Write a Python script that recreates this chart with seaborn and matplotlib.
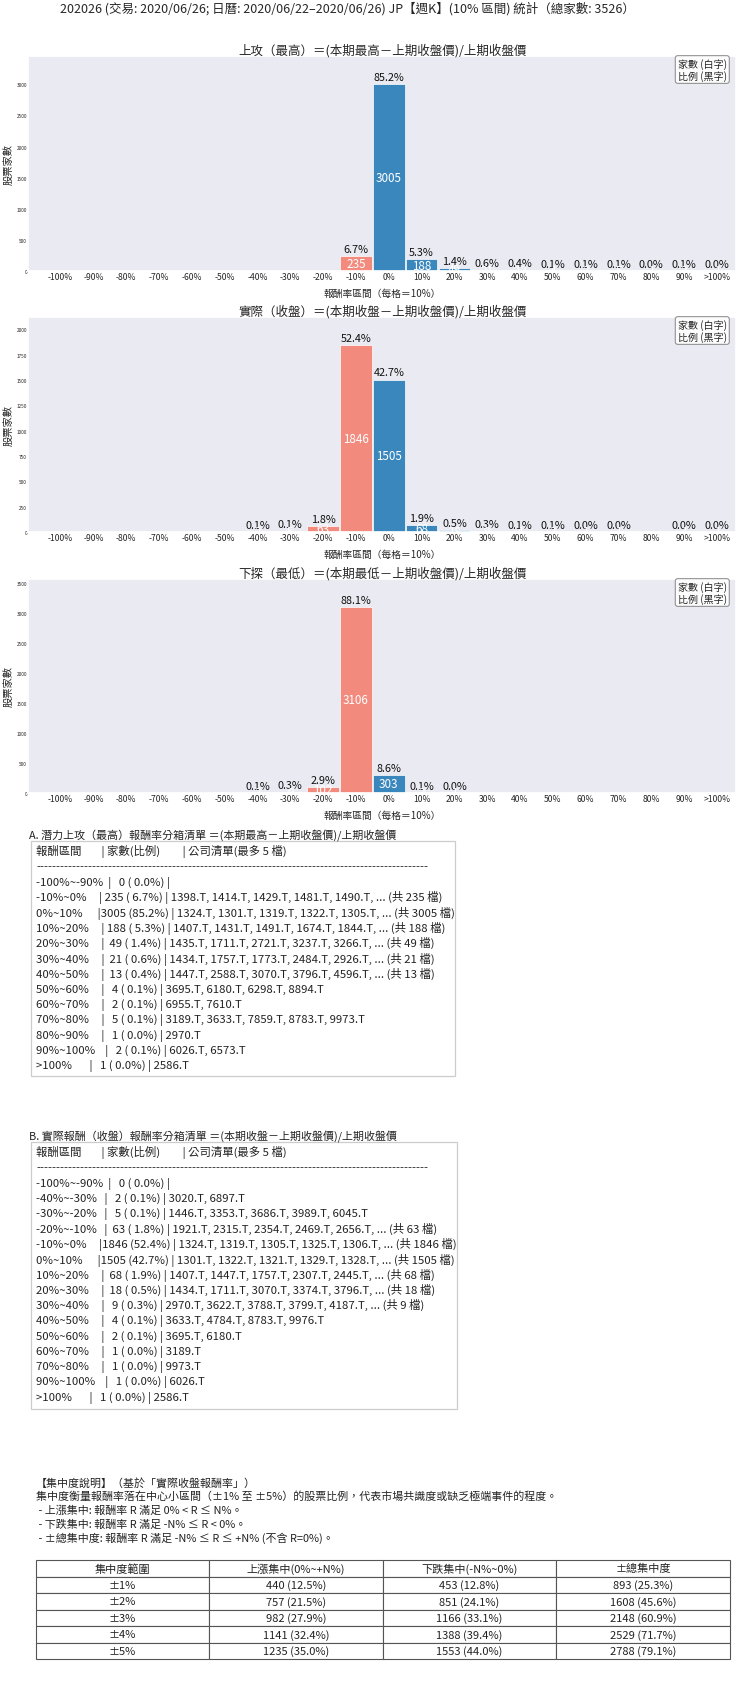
import numpy as np
import pandas as pd
import seaborn as sns
import matplotlib.pyplot as plt
from matplotlib.patches import Rectangle

# ---------------- data ----------------
TOTAL = 3526
main_title = "202026 (交易: 2020/06/26; 日曆: 2020/06/22–2020/06/26) JP【週K】(10% 區間) 統計（總家數: 3526）"

bin_labels = ['-100%', '-90%', '-80%', '-70%', '-60%', '-50%', '-40%', '-30%', '-20%', '-10%',
              '0%', '10%', '20%', '30%', '40%', '50%', '60%', '70%', '80%', '90%', '>100%']
range_labels = ['-100%~-90%', '-90%~-80%', '-80%~-70%', '-70%~-60%', '-60%~-50%', '-50%~-40%',
                '-40%~-30%', '-30%~-20%', '-20%~-10%', '-10%~0%', '0%~10%', '10%~20%', '20%~30%',
                '30%~40%', '40%~50%', '50%~60%', '60%~70%', '70%~80%', '80%~90%', '90%~100%', '>100%']

high_counts = [0, 0, 0, 0, 0, 0, 0, 0, 0, 235, 3005, 188, 49, 21, 13, 4, 2, 5, 1, 2, 1]
close_counts = [0, 0, 0, 0, 0, 0, 2, 5, 63, 1846, 1505, 68, 18, 9, 4, 2, 1, 1, 0, 1, 1]
low_counts = [0, 0, 0, 0, 0, 0, 3, 9, 102, 3106, 303, 2, 1, 0, 0, 0, 0, 0, 0, 0, 0]

chart_titles = ["上攻（最高）＝(本期最高－上期收盤價)/上期收盤價",
                "實際（收盤）＝(本期收盤－上期收盤價)/上期收盤價",
                "下探（最低）＝(本期最低－上期收盤價)/上期收盤價"]

# company lists for the rows that appear in the tables (first row + non-empty bins)
high_companies = [
    [],
    ['1398.T', '1414.T', '1429.T', '1481.T', '1490.T'],
    ['1324.T', '1301.T', '1319.T', '1322.T', '1305.T'],
    ['1407.T', '1431.T', '1491.T', '1674.T', '1844.T'],
    ['1435.T', '1711.T', '2721.T', '3237.T', '3266.T'],
    ['1434.T', '1757.T', '1773.T', '2484.T', '2926.T'],
    ['1447.T', '2588.T', '3070.T', '3796.T', '4596.T'],
    ['3695.T', '6180.T', '6298.T', '8894.T'],
    ['6955.T', '7610.T'],
    ['3189.T', '3633.T', '7859.T', '8783.T', '9973.T'],
    ['2970.T'],
    ['6026.T', '6573.T'],
    ['2586.T'],
]
close_companies = [
    [],
    ['3020.T', '6897.T'],
    ['1446.T', '3353.T', '3686.T', '3989.T', '6045.T'],
    ['1921.T', '2315.T', '2354.T', '2469.T', '2656.T'],
    ['1324.T', '1319.T', '1305.T', '1325.T', '1306.T'],
    ['1301.T', '1322.T', '1321.T', '1329.T', '1328.T'],
    ['1407.T', '1447.T', '1757.T', '2307.T', '2445.T'],
    ['1434.T', '1711.T', '3070.T', '3374.T', '3796.T'],
    ['2970.T', '3622.T', '3788.T', '3799.T', '4187.T'],
    ['3633.T', '4784.T', '8783.T', '9976.T'],
    ['3695.T', '6180.T'],
    ['3189.T'],
    ['9973.T'],
    ['6026.T'],
    ['2586.T'],
]

conc_ranges = ['±1%', '±2%', '±3%', '±4%', '±5%']
conc_up = [440, 757, 982, 1141, 1235]
conc_down = [453, 851, 1166, 1388, 1553]
conc_total = [893, 1608, 2148, 2529, 2788]
conc_header = ['集中度範圍', '上漲集中(0%~+N%)', '下跌集中(-N%~0%)', '±總集中度']

conc_notes = ["【集中度說明】（基於「實際收盤報酬率」）",
              "集中度衡量報酬率落在中心小區間（±1% 至 ±5%）的股票比例，代表市場共識度或缺乏極端事件的程度。",
              " - 上漲集中: 報酬率 R 滿足 0% < R ≤ N%。",
              " - 下跌集中: 報酬率 R 滿足 -N% ≤ R < 0%。",
              " - ±總集中度: 報酬率 R 滿足 -N% ≤ R ≤ +N% (不含 R=0%)。"]

# ---------------- style ----------------
sns.set_theme(style="darkgrid")
plt.rcParams['font.family'] = ['Noto Sans CJK TC', 'DejaVu Sans']

NEG = '#F28B7E'
POS = '#3A87BE'
POS_LIGHT = '#A3CBE3'
bar_colors = []
for i in range(len(bin_labels)):
    if i < 10:
        bar_colors.append(NEG)
    elif i < 14:
        bar_colors.append(POS)
    else:
        bar_colors.append(POS_LIGHT)

W, H = 740, 1690
fig = plt.figure(figsize=(W / 100, H / 100), dpi=100)


def px_rect(left, top, right, bottom):
    return [left / W, 1 - bottom / H, (right - left) / W, (bottom - top) / H]


def draw_hist(ax, counts, title):
    df = pd.DataFrame({'bin': bin_labels, 'count': counts})
    sns.barplot(data=df, x='bin', y='count', hue='bin', palette=bar_colors, legend=False,
                width=0.96, saturation=1, edgecolor='white', linewidth=0.5, ax=ax)
    ax.set_ylim(0, max(counts) * 1.15)
    ax.set_xlim(-0.98, 20.58)
    ax.yaxis.grid(False)
    for i, c in enumerate(counts):
        if c == 0:
            continue
        ax.annotate(f"{c / TOTAL * 100:.1f}%", (i, c), xytext=(0, 1.5), textcoords='offset points',
                    ha='center', va='bottom', fontsize=7.8, color='#111111')
        ax.text(i, c / 2, str(c), color='white', ha='center', va='center', fontsize=8.4, clip_on=True)
    ax.set_title(title, fontsize=9, pad=2)
    ax.set_xlabel("報酬率區間（每格＝10%）", fontsize=7, labelpad=4.5)
    ax.set_ylabel("股票家數", fontsize=7.4, labelpad=2)
    ax.tick_params(axis='x', labelsize=6.2, pad=1, length=0)
    ax.tick_params(axis='y', labelsize=3.4, pad=1, length=0)
    ax.text(0.987, 0.99, "家數 (白字)\n比例 (黑字)", transform=ax.transAxes, ha='right', va='top',
            fontsize=7.2, linespacing=1.1,
            bbox=dict(boxstyle='round,pad=0.25', fc='white', ec='#888888', lw=0.8, alpha=0.9))


axes_pos = [(57, 272), (318, 533), (580, 794)]
for (top, bottom), counts, title in zip(axes_pos, [high_counts, close_counts, low_counts], chart_titles):
    ax = fig.add_axes(px_rect(28.4, top, 736, bottom))
    draw_hist(ax, counts, title)

fig.text(0.469, 1 - 9 / H, main_title, ha='center', va='center', fontsize=9)

# ---------------- text tables ----------------
tx = fig.add_axes([0, 0, 1, 1], zorder=-1)
tx.set_xlim(0, W)
tx.set_ylim(H, 0)
tx.axis('off')


def table_lines(counts, companies):
    rows = [i for i, c in enumerate(counts) if c > 0 or i == 0]
    lines = ["報酬區間        | 家數(比例)         | 公司清單(最多 5 檔)", "-" * 98]
    for i, comp in zip(rows, companies):
        c = counts[i]
        s = f"{range_labels[i]:<12}|{c:>4} ({c / TOTAL * 100:>4.1f}%) | " + ", ".join(comp)
        if c > 5:
            s += f", ... (共 {c} 檔)"
        lines.append(s)
    return lines


def draw_text_table(title, title_y, lines, box_top, box_bottom, box_right):
    tx.text(29, title_y, title, ha='left', va='center', fontsize=7.9, color='#222222')
    tx.add_patch(Rectangle((30.7, box_top), box_right - 30.7, box_bottom - box_top,
                           fc='white', ec='#cccccc', lw=0.9))
    for k, line in enumerate(lines):
        tx.text(36, box_top + 10 + k * 15.3, line, ha='left', va='center', fontsize=8.2, color='#222222')


draw_text_table("A. 潛力上攻（最高）報酬率分箱清單 ＝(本期最高－上期收盤價)/上期收盤價", 835,
                table_lines(high_counts, high_companies), 842, 1077, 455)
draw_text_table("B. 實際報酬（收盤）報酬率分箱清單 ＝(本期收盤－上期收盤價)/上期收盤價", 1136,
                table_lines(close_counts, close_companies), 1143, 1410, 457)

for k, note in enumerate(conc_notes):
    tx.text(35.5, 1483 + k * 13.8, note, ha='left', va='center', fontsize=7.9, color='#222222')

# ---------------- concentration table ----------------
cell_text = [[r, f"{u} ({u / TOTAL * 100:.1f}%)", f"{d} ({d / TOTAL * 100:.1f}%)", f"{t} ({t / TOTAL * 100:.1f}%)"]
             for r, u, d, t in zip(conc_ranges, conc_up, conc_down, conc_total)]
tab_ax = fig.add_axes(px_rect(35.5, 1561, 730, 1660))
tab_ax.axis('off')
tbl = tab_ax.table(cellText=cell_text, colLabels=conc_header, cellLoc='center', loc='center',
                   bbox=[0, 0, 1, 1])
tbl.auto_set_font_size(False)
tbl.set_fontsize(8)
for cell in tbl.get_celld().values():
    cell.set_edgecolor('#555555')
    cell.set_linewidth(0.8)
    cell.set_facecolor('white')
    cell.get_text().set_color('#222222')

fig.savefig("out.png", dpi=100)
